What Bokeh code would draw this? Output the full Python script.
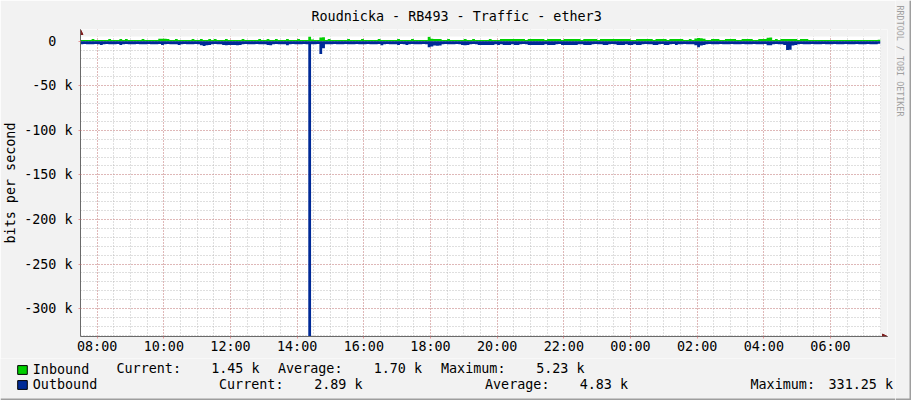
import math
from datetime import datetime, timedelta
from bokeh.plotting import figure
from bokeh.layouts import row, column
from bokeh.models import (SingleIntervalTicker, DatetimeTickFormatter, CustomJSTickFormatter,
                          Label, Legend, LegendItem, Range1d, Arrow, NormalHead,
                          ColumnDataSource, BoxAnnotation)
from bokeh.embed import file_html
from bokeh.resources import INLINE

# ---------------- data ----------------
TITLE = "Roudnicka - RB493 - Traffic - ether3"
Y_LABEL = "bits per second"
WATERMARK = "RRDTOOL / TOBI OETIKER"
START = datetime(2024, 1, 1, 7, 30)
STEP_MINUTES = 5
N_STEPS = 288

series_names = ["Inbound", "Outbound"]
series_colors = ["#00CF00", "#002A97"]

# kbit/s, one value per 5 minutes starting 07:30
inbound_k = [
    1.3, 1.2, 1.3, 1.4, 2.4, 1.3, 1.2, 1.3, 1.4, 1.3, 2.3, 1.3,
    1.3, 1.2, 2.4, 1.3, 2.3, 1.3, 1.2, 1.3, 1.4, 1.3, 2.4, 1.3,
    1.3, 1.2, 1.3, 1.4, 2.6, 2.7, 2.6, 2.5, 1.3, 1.2, 2.3, 1.3,
    1.3, 1.2, 1.3, 1.4, 2.4, 1.3, 1.2, 2.3, 1.3, 1.2, 2.4, 1.3,
    2.3, 1.3, 1.2, 1.3, 2.4, 1.3, 1.2, 1.3, 1.4, 1.3, 2.4, 1.3,
    1.3, 1.2, 1.3, 1.4, 2.4, 1.3, 1.2, 2.3, 1.3, 1.2, 2.4, 1.3,
    1.3, 1.2, 2.4, 1.3, 1.2, 1.3, 2.4, 1.3, 1.4, 1.3, 5.23, 2.0,
    1.4, 1.3, 4.2, 4.5, 1.3, 2.4, 1.3, 1.2, 1.3, 1.4, 1.3, 1.2,
    2.4, 1.3, 1.2, 1.3, 1.4, 2.3, 1.3, 1.2, 1.3, 1.4, 1.3, 2.4,
    1.3, 1.2, 1.3, 1.4, 1.3, 1.2, 2.4, 1.3, 1.2, 1.3, 1.4, 2.3,
    1.3, 1.2, 1.3, 1.4, 1.3, 5.0, 2.6, 2.4, 2.4, 2.3, 1.3, 1.2,
    2.4, 1.3, 1.2, 1.3, 1.4, 1.3, 2.4, 1.3, 1.2, 2.3, 1.3, 1.2,
    1.3, 1.2, 1.3, 2.4, 1.3, 1.2, 1.3, 2.3, 2.4, 2.3, 2.4, 2.3,
    2.4, 2.3, 2.4, 2.3, 1.4, 2.4, 2.3, 2.4, 2.3, 2.4, 2.3, 1.3,
    2.3, 2.4, 2.3, 2.4, 2.3, 1.4, 2.4, 2.3, 2.4, 2.3, 2.4, 2.3,
    1.3, 2.4, 2.3, 2.4, 2.3, 2.4, 1.4, 2.3, 2.4, 2.3, 2.4, 2.3,
    2.4, 2.3, 2.4, 2.3, 2.4, 2.3, 1.4, 1.3, 2.4, 2.3, 2.4, 2.3,
    2.4, 2.3, 1.4, 2.3, 2.4, 2.3, 2.4, 1.3, 2.4, 2.3, 2.4, 2.3,
    2.3, 1.3, 1.2, 2.4, 1.3, 3.0, 3.6, 3.4, 2.8, 1.3, 1.2, 2.4,
    2.4, 2.3, 1.3, 1.2, 2.4, 2.3, 2.4, 2.3, 1.3, 1.2, 2.4, 2.3,
    2.4, 2.3, 1.3, 1.2, 2.4, 2.3, 2.4, 3.8, 4.0, 1.3, 2.3, 1.2,
    2.4, 2.3, 2.4, 2.3, 2.4, 2.3, 1.3, 2.4, 2.3, 2.4, 1.3, 1.2,
    1.3, 1.4, 1.3, 1.4, 1.3, 1.4, 1.3, 1.4, 1.3, 1.4, 1.3, 1.4,
    1.3, 1.4, 1.3, 1.4, 1.3, 1.4, 1.3, 1.4, 1.3, 1.4, 1.3, 1.45,
]

outbound_k = [
    3.4, 3.3, 3.4, 3.5, 3.4, 3.3, 3.4, 4.4, 3.4, 3.3, 3.4, 3.5,
    3.4, 3.3, 4.4, 3.4, 3.3, 3.4, 3.5, 3.4, 3.3, 3.4, 3.5, 3.4,
    3.3, 3.4, 3.5, 3.4, 3.3, 4.3, 3.4, 3.3, 3.4, 3.5, 3.4, 4.4,
    3.4, 3.3, 3.4, 3.5, 3.4, 3.3, 3.4, 4.6, 5.3, 4.6, 4.4, 3.4,
    3.3, 3.4, 3.5, 4.4, 4.5, 4.4, 4.3, 4.4, 4.5, 4.4, 3.4, 3.3,
    3.4, 3.5, 3.4, 3.3, 3.4, 3.5, 3.4, 4.4, 4.5, 3.4, 3.3, 3.4,
    3.5, 3.4, 4.5, 3.4, 3.3, 3.4, 3.5, 3.4, 3.3, 3.4, 331.25, 3.6,
    3.4, 3.3, 14.5, 8.0, 3.4, 3.5, 3.4, 3.3, 3.4, 3.5, 3.4, 3.3,
    3.4, 3.5, 3.4, 3.3, 3.4, 3.5, 3.4, 3.3, 3.4, 3.5, 3.4, 3.3,
    4.5, 3.4, 3.3, 3.4, 3.5, 3.4, 4.4, 3.3, 3.4, 4.3, 3.4, 3.3,
    3.4, 3.5, 3.4, 3.3, 3.4, 6.7, 6.0, 5.0, 5.1, 5.0, 3.4, 3.3,
    3.4, 3.5, 3.4, 3.3, 3.4, 4.4, 4.5, 4.4, 3.4, 3.3, 3.4, 4.4,
    4.4, 4.3, 4.4, 4.3, 4.4, 3.4, 4.3, 3.4, 4.4, 4.3, 4.4, 3.4,
    4.3, 4.4, 3.4, 3.3, 3.4, 4.4, 4.3, 4.4, 4.3, 4.4, 4.3, 3.4,
    4.4, 4.3, 4.4, 3.4, 3.3, 4.4, 4.3, 4.4, 4.3, 4.4, 4.3, 3.4,
    3.4, 4.4, 4.3, 4.4, 3.4, 3.3, 3.4, 3.5, 4.4, 4.3, 3.4, 3.3,
    3.4, 4.4, 4.3, 4.4, 3.4, 4.3, 4.4, 3.4, 4.3, 4.4, 3.4, 3.3,
    3.4, 3.5, 4.4, 4.3, 3.4, 3.3, 4.4, 4.3, 3.4, 3.3, 4.4, 3.4,
    3.4, 3.3, 3.4, 3.5, 3.4, 4.5, 6.7, 5.0, 4.4, 3.4, 3.3, 3.4,
    3.5, 3.4, 3.3, 3.4, 3.5, 3.4, 3.3, 3.4, 3.5, 3.4, 3.3, 3.4,
    3.5, 3.4, 3.3, 3.4, 3.5, 3.4, 3.3, 4.5, 4.6, 3.4, 3.3, 3.4,
    3.5, 4.4, 9.8, 9.5, 5.0, 4.4, 3.4, 3.3, 3.4, 3.5, 3.4, 3.3,
    3.4, 3.5, 3.4, 3.3, 3.4, 3.5, 3.4, 3.3, 3.4, 3.5, 3.4, 3.3,
    3.4, 3.5, 3.4, 3.3, 3.4, 3.5, 3.4, 3.3, 3.4, 3.5, 3.4, 2.89,
]

stat_current = ["1.45 k", "2.89 k"]
stat_average = ["1.70 k", "4.83 k"]
stat_maximum = ["5.23 k", "331.25 k"]

Y_MIN_K = -331.25
Y_MAX_K = 5.23

assert len(inbound_k) == N_STEPS and len(outbound_k) == N_STEPS

# ---------------- style / layout constants ----------------
FONT = "DejaVu Sans Mono"
FS = "13.4px"
BG = "#F2F2F2"
AXIS_COL = "#6A6A6A"
ARROW_COL = "#7F1F1F"
MGRID = "#E07070"
GRID = "#B0B0B0"
SHADE_B = "#9E9E9E"

CANVAS_W, CANVAS_H = 800, 300      # data canvas in pixels
EXT = 7                            # axis extension (arrows) in pixels
MAIN_W, MAIN_H = 895, 358
LEG_H = 400 - MAIN_H
STRIP_W = 911 - MAIN_W

END = START + timedelta(minutes=STEP_MINUTES * N_STEPS)
span_s = (END - START).total_seconds()
x_ext_end = END + timedelta(seconds=span_s * EXT / CANVAS_W)
y_ext_top = Y_MAX_K + (Y_MAX_K - Y_MIN_K) * EXT / CANVAS_H

times = [START + timedelta(minutes=STEP_MINUTES * i) for i in range(N_STEPS + 1)]
inb = list(inbound_k) + [inbound_k[-1]]
outb = [-v for v in outbound_k] + [-outbound_k[-1]]
src = ColumnDataSource(dict(t=times, inb=inb, outb=outb, zero=[0.0] * len(times)))

# ---------------- main plot ----------------
p = figure(width=MAIN_W, height=MAIN_H, x_axis_type="datetime",
           output_backend="svg", toolbar_location=None,
           x_range=Range1d(START, x_ext_end), y_range=Range1d(Y_MIN_K, y_ext_top),
           min_border_left=80, min_border_right=MAIN_W - 80 - CANVAS_W - EXT,
           min_border_top=36 - EXT, min_border_bottom=MAIN_H - 36 - CANVAS_H)
p.frame_align = False

p.border_fill_color = BG
p.background_fill_color = "#FFFFFF"
p.outline_line_color = None

p.title.text = TITLE
p.title.text_font = FONT
p.title.text_font_size = FS
p.title.text_font_style = "normal"
p.title.text_color = "#000000"
p.title.align = "left"
p.title.offset = 231
p.title.standoff = 12

area_in = p.varea_step(x="t", y1="zero", y2="inb", step_mode="after", source=src,
                       fill_color=series_colors[0])
area_out = p.varea_step(x="t", y1="zero", y2="outb", step_mode="after", source=src,
                        fill_color=series_colors[1])

# grey strips where the axes extend beyond the data canvas
p.add_layout(BoxAnnotation(bottom=Y_MAX_K, top=y_ext_top, left=START, right=x_ext_end,
                           fill_color=BG, fill_alpha=1, line_alpha=0, level="glyph"))
p.add_layout(BoxAnnotation(bottom=Y_MIN_K, top=y_ext_top, left=END, right=x_ext_end,
                           fill_color=BG, fill_alpha=1, line_alpha=0, level="glyph"))

xt = SingleIntervalTicker(interval=2 * 3600 * 1000, num_minor_ticks=4)
yt = SingleIntervalTicker(interval=50, num_minor_ticks=5)
p.xaxis.ticker = xt
p.yaxis.ticker = yt
p.xgrid.ticker = xt
p.ygrid.ticker = yt
p.xaxis.formatter = DatetimeTickFormatter(hours="%H:%M", days="%H:%M", hourmin="%H:%M")
p.yaxis.formatter = CustomJSTickFormatter(code="""
    if (Math.abs(tick) < 1e-9) { return "0\\u00a0\\u00a0"; }
    return tick.toFixed(0) + " k";
""")

for ax in (p.xaxis, p.yaxis):
    ax.axis_line_color = AXIS_COL
    ax.axis_line_width = 1
    ax.major_tick_in = 0
    ax.major_tick_out = 2
    ax.major_tick_line_color = MGRID
    ax.major_tick_line_alpha = 0.7
    ax.minor_tick_in = 0
    ax.minor_tick_out = 0
    ax.major_label_text_font = FONT
    ax.major_label_text_font_size = FS
    ax.major_label_text_color = "#000000"
p.yaxis.major_label_standoff = 6
p.xaxis.major_label_standoff = 0
p.yaxis.axis_label = Y_LABEL
p.yaxis.axis_label_text_font = FONT
p.yaxis.axis_label_text_font_size = FS
p.yaxis.axis_label_text_font_style = "normal"
p.yaxis.axis_label_text_color = "#000000"
p.yaxis.axis_label_standoff = 3

for g in (p.xgrid, p.ygrid):
    g.grid_line_color = MGRID
    g.grid_line_alpha = 0.7
    g.grid_line_dash = "1 2"
    g.minor_grid_line_color = GRID
    g.minor_grid_line_alpha = 0.8
    g.minor_grid_line_dash = "1 2"

p.add_layout(Arrow(x_start=START, y_start=Y_MAX_K, x_end=START, y_end=y_ext_top,
                   line_color=AXIS_COL, line_width=1,
                   end=NormalHead(size=5, fill_color=ARROW_COL, line_color=ARROW_COL, line_width=1)))
p.add_layout(Arrow(x_start=END, y_start=Y_MIN_K, x_end=x_ext_end, y_end=Y_MIN_K,
                   line_color=AXIS_COL, line_width=1,
                   end=NormalHead(size=5, fill_color=ARROW_COL, line_color=ARROW_COL, line_width=1)))

# ---------------- legend strip ----------------
q = figure(width=MAIN_W, height=LEG_H, output_backend="svg", toolbar_location=None,
           x_range=Range1d(0, MAIN_W), y_range=Range1d(0, LEG_H),
           x_axis_location=None, y_axis_location=None,
           min_border=0, min_border_left=0, min_border_right=0,
           min_border_top=0, min_border_bottom=0)
q.frame_align = False
q.grid.visible = False
q.border_fill_color = BG
q.background_fill_color = BG
q.outline_line_color = None

NAN = float("nan")
sw_in = q.patch(x=[NAN], y=[NAN], fill_color=series_colors[0], line_color="#000000", line_width=1)
sw_out = q.patch(x=[NAN], y=[NAN], fill_color=series_colors[1], line_color="#000000", line_width=1)
legend = Legend(items=[LegendItem(label=series_names[0], renderers=[sw_in]),
                       LegendItem(label=series_names[1], renderers=[sw_out])],
                location=(15.8, 8), orientation="vertical",
                glyph_width=12, glyph_height=11, label_standoff=5, spacing=0,
                label_height=15, padding=0, margin=0,
                border_line_color=None, background_fill_alpha=0,
                label_text_font=FONT, label_text_font_size=FS, label_text_color="#000000")
q.add_layout(legend)

row_y = [31.6, 16.0]
cur_lbl_x = [116, 218.5]
cur_val_x = [259, 362]
avg_lbl_x = [277.5, 484.5]
avg_val_x = [421.5, 627.5]
max_lbl_x = [440.5, 750]
max_val_x = [584, 892.5]

def lab(fig, x, y, text, align):
    fig.add_layout(Label(x=x, y=y, x_units="screen", y_units="screen", text=text,
                         text_align=align, text_baseline="alphabetic",
                         text_font=FONT, text_font_size=FS, text_color="#000000"))

for r in range(2):
    lab(q, cur_lbl_x[r], row_y[r], "Current:", "left")
    lab(q, cur_val_x[r], row_y[r], stat_current[r], "right")
    lab(q, avg_lbl_x[r], row_y[r], "Average:", "left")
    lab(q, avg_val_x[r], row_y[r], stat_average[r], "right")
    lab(q, max_lbl_x[r], row_y[r], "Maximum:", "left")
    lab(q, max_val_x[r], row_y[r], stat_maximum[r], "right")

q.add_layout(BoxAnnotation(left=0, right=MAIN_W, bottom=0, top=2,
                           left_units="screen", right_units="screen",
                           bottom_units="screen", top_units="screen",
                           fill_color=SHADE_B, fill_alpha=1, line_alpha=0))

# ---------------- right strip (watermark) ----------------
s = figure(width=STRIP_W, height=400, output_backend="svg", toolbar_location=None,
           x_range=Range1d(0, STRIP_W), y_range=Range1d(0, 400),
           x_axis_location=None, y_axis_location=None,
           min_border=0, min_border_left=0, min_border_right=0,
           min_border_top=0, min_border_bottom=0)
s.frame_align = False
s.grid.visible = False
s.border_fill_color = BG
s.background_fill_color = BG
s.outline_line_color = None
s.add_layout(Label(x=4, y=395, x_units="screen", y_units="screen", text=WATERMARK,
                   angle=-math.pi / 2, text_align="left", text_baseline="alphabetic",
                   text_font=FONT, text_font_size="8.4px", text_color="#A0A0A0"))
s.add_layout(BoxAnnotation(left=STRIP_W - 2, right=STRIP_W, bottom=0, top=400,
                           left_units="screen", right_units="screen",
                           bottom_units="screen", top_units="screen",
                           fill_color=SHADE_B, fill_alpha=1, line_alpha=0))
s.add_layout(BoxAnnotation(left=0, right=STRIP_W, bottom=0, top=2,
                           left_units="screen", right_units="screen",
                           bottom_units="screen", top_units="screen",
                           fill_color=SHADE_B, fill_alpha=1, line_alpha=0))

layout = row(column(p, q, spacing=0), s, spacing=0)
open("out.html", "w").write(file_html(layout, INLINE))
